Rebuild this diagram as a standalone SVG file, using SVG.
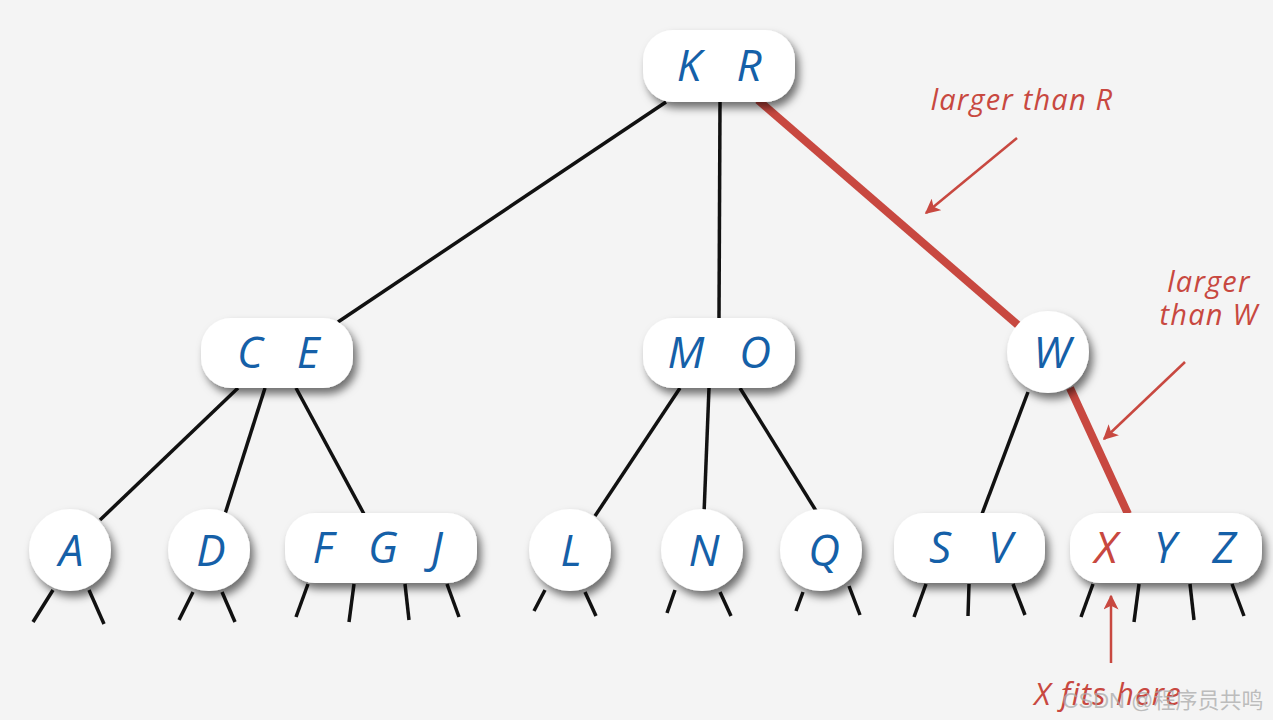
<svg xmlns="http://www.w3.org/2000/svg" width="1273" height="720" viewBox="0 0 1273 720">
<style>
.nd{fill:#ffffff;filter:url(#sh)}
.lb{font-family:"Open Sans","Noto Sans",sans-serif;font-style:italic;font-size:44px;fill:#1560a8;text-anchor:middle}
.ed{stroke:#111;stroke-width:3.5;fill:none;stroke-linecap:butt}
.rd{stroke:#c84840;stroke-width:8;fill:none}
.ar{stroke:#c84840;stroke-width:2.5;fill:none;marker-end:url(#ah)}
.an{font-family:"Open Sans","Noto Sans",sans-serif;font-style:italic;font-size:29px;letter-spacing:1.2px;fill:#c84840;text-anchor:middle}
</style>
<defs>
<filter id="sh" x="-30%" y="-30%" width="160%" height="170%">
<feDropShadow dx="4" dy="6" stdDeviation="4" flood-color="#000" flood-opacity="0.55"/>
</filter>
<marker id="ah" viewBox="0 0 10 10" refX="9" refY="5" markerWidth="6" markerHeight="6" orient="auto" markerUnits="strokeWidth">
<path d="M0,0 L10,5 L0,10 L2.5,5 z" fill="#c84840"/>
</marker>
</defs>
<rect width="1273" height="720" fill="#f4f4f4"/>
<g id="connectors">
<line class="ed" x1="666" y1="102" x2="338" y2="322"/>
<line class="ed" x1="720" y1="102" x2="719" y2="320"/>
<line class="rd" x1="758" y1="100" x2="1019" y2="326"/>
<line class="ed" x1="238" y1="388" x2="100" y2="520"/>
<line class="ed" x1="265" y1="388" x2="225" y2="514"/>
<line class="ed" x1="296" y1="388" x2="364" y2="514"/>
<line class="ed" x1="680" y1="388" x2="595" y2="516"/>
<line class="ed" x1="709" y1="388" x2="704" y2="514"/>
<line class="ed" x1="740" y1="388" x2="818" y2="514"/>
<line class="ed" x1="1028" y1="392" x2="982" y2="514"/>
<line class="rd" x1="1070" y1="388" x2="1128" y2="514"/>
<line class="ed" x1="53" y1="590" x2="33" y2="622"/>
<line class="ed" x1="89" y1="590" x2="104" y2="624"/>
<line class="ed" x1="193" y1="592" x2="179" y2="620"/>
<line class="ed" x1="222" y1="592" x2="235" y2="622"/>
<line class="ed" x1="308" y1="584" x2="296" y2="617"/>
<line class="ed" x1="354" y1="584" x2="349" y2="622"/>
<line class="ed" x1="405" y1="584" x2="409" y2="620"/>
<line class="ed" x1="447" y1="584" x2="459" y2="617"/>
<line class="ed" x1="545" y1="590" x2="534" y2="611"/>
<line class="ed" x1="585" y1="592" x2="596" y2="616"/>
<line class="ed" x1="675" y1="590" x2="667" y2="613"/>
<line class="ed" x1="720" y1="592" x2="731" y2="616"/>
<line class="ed" x1="803" y1="592" x2="796" y2="611"/>
<line class="ed" x1="849" y1="586" x2="860" y2="615"/>
<line class="ed" x1="926" y1="584" x2="914" y2="617"/>
<line class="ed" x1="969" y1="584" x2="968" y2="616"/>
<line class="ed" x1="1013" y1="584" x2="1025" y2="615"/>
<line class="ed" x1="1093" y1="584" x2="1081" y2="617"/>
<line class="ed" x1="1139" y1="584" x2="1134" y2="622"/>
<line class="ed" x1="1190" y1="584" x2="1194" y2="620"/>
<line class="ed" x1="1232" y1="584" x2="1244" y2="616"/>
<line class="ar" x1="1017" y1="138" x2="926" y2="213"/>
<line class="ar" x1="1185" y1="362" x2="1104" y2="439"/>
<line class="ar" x1="1111" y1="663" x2="1111" y2="596"/>
</g>
<g id="n-KR"><rect class="nd" x="643" y="30" width="152" height="72" rx="30"/><text class="lb" x="689" y="81">K</text><text class="lb" x="749" y="81">R</text></g>
<g id="n-CE"><rect class="nd" x="201" y="318" width="152" height="70" rx="30"/><text class="lb" x="250" y="368">C</text><text class="lb" x="308" y="368">E</text></g>
<g id="n-MO"><rect class="nd" x="643" y="318" width="152" height="70" rx="30"/><text class="lb" x="686" y="368">M</text><text class="lb" x="755" y="368">O</text></g>
<g id="n-W"><circle class="nd" cx="1048" cy="352" r="41"/><text class="lb" x="1052" y="368">W</text></g>
<g id="n-A"><circle class="nd" cx="70" cy="550" r="41"/><text class="lb" x="71" y="566">A</text></g>
<g id="n-D"><circle class="nd" cx="209" cy="550" r="41"/><text class="lb" x="211" y="566">D</text></g>
<g id="n-FGJ"><rect class="nd" x="285" y="513" width="192" height="70" rx="30"/><text class="lb" x="323" y="563">F</text><text class="lb" x="383" y="563">G</text><text class="lb" x="437" y="563">J</text></g>
<g id="n-L"><circle class="nd" cx="570" cy="550" r="41"/><text class="lb" x="571" y="566">L</text></g>
<g id="n-N"><circle class="nd" cx="702" cy="550" r="41"/><text class="lb" x="704" y="566">N</text></g>
<g id="n-Q"><circle class="nd" cx="821" cy="550" r="41"/><text class="lb" x="824" y="566">Q</text></g>
<g id="n-SV"><rect class="nd" x="894" y="513" width="151" height="70" rx="30"/><text class="lb" x="940" y="563">S</text><text class="lb" x="1000" y="563">V</text></g>
<g id="n-XYZ"><rect class="nd" x="1070" y="513" width="192" height="70" rx="30"/><text class="lb" x="1106" y="563" style="fill:#c84840">X</text><text class="lb" x="1165" y="563">Y</text><text class="lb" x="1224" y="563">Z</text></g>
<g id="annotations">
<text class="an" x="1022" y="110">larger than R</text>
<text class="an" x="1209" y="292">larger</text>
<text class="an" x="1209" y="325">than W</text>
<text class="an" x="1108" y="705" style="font-size:31px">X fits here</text>
<text x="1163" y="708" style="font-family:'Liberation Sans','Noto Sans CJK SC',sans-serif;font-size:22px;fill:#aaa;fill-opacity:0.75;text-anchor:middle">CSDN @程序员共鸣</text>
</g>
</svg>
